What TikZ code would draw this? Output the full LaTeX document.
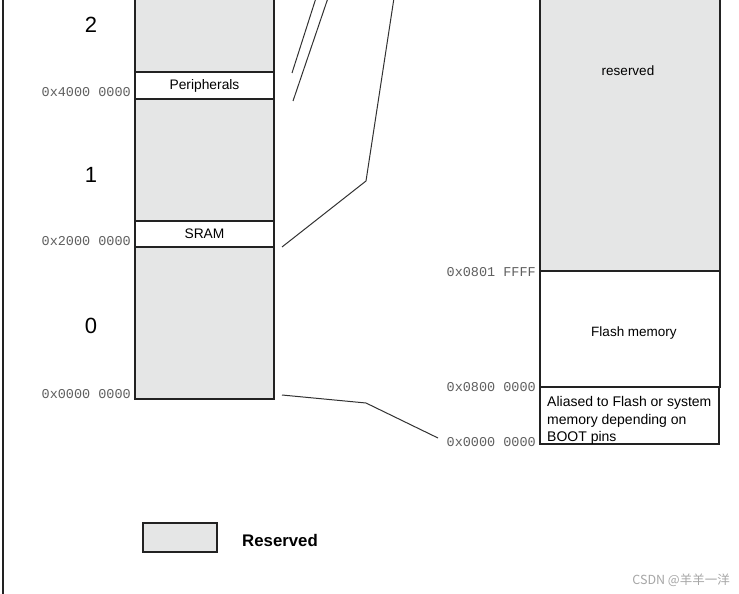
\documentclass[tikz,border=0pt]{standalone}
\usepackage{fontspec}
\setmainfont{Liberation Sans}
\setmonofont{Liberation Mono}
\newfontfamily\cjkfont{Noto Sans CJK SC}
\definecolor{resgray}{RGB}{229,230,230}
\definecolor{edgec}{RGB}{34,34,34}
\definecolor{addrc}{RGB}{95,95,95}
\definecolor{linkc}{RGB}{50,50,50}
\begin{document}
\begin{tikzpicture}[x=1pt,y=-1pt,
  region/.style={draw=edgec, line width=1.6pt, fill=resgray},
  band/.style={draw=edgec, line width=1.6pt, fill=white, inner sep=0pt, font=\fontsize{13.8}{15}\selectfont},
  addrlbl/.style={font=\ttfamily\fontsize{13.5}{15}\selectfont, text=addrc, inner sep=0pt},
  bignum/.style={font=\fontsize{22}{24}\selectfont, inner sep=0pt},
  link/.style={draw=linkc, line width=1pt},
  plain/.style={inner sep=0pt, font=\fontsize{13.5}{15}\selectfont}
]
\useasboundingbox (0,0) rectangle (739,594);
\clip (0,0) rectangle (739,594);
\fill[white] (0,0) rectangle (739,594);

% left frame line
\draw[edgec, line width=1.5pt] (3,-2) -- (3,596);

% left memory column
\path[region] (135,-10) rectangle (274,399);
\node[band, minimum width=139pt, minimum height=27pt] (periph) at (204.5,85.5) {Peripherals};
\node[band, minimum width=139pt, minimum height=26pt] (sram) at (204.5,234) {SRAM};

% block numbers
\node[bignum] (n2) at (91,25) {2};
\node[bignum] (n1) at (91,175) {1};
\node[bignum] (n0) at (91,326) {0};

% left addresses
\node[addrlbl, anchor=east] (a4) at (131,92) {0x4000 0000};
\node[addrlbl, anchor=east] (a2) at (131,241) {0x2000 0000};
\node[addrlbl, anchor=east] (a0) at (131,394) {0x0000 0000};

% right memory column
\path[region] (540,-10) rectangle (720,271);
\node[plain] (resv) at (628,71) {reserved};
\node[band, minimum width=180pt, minimum height=116pt] (flash) at (630,329) {};
\node[plain] (flashtxt) at (634,333) {Flash memory};
\node[draw=edgec, line width=1.3pt, fill=white, minimum width=179pt, minimum height=57pt, inner sep=0pt] (alias) at (629.5,415.5) {};
\node[anchor=north west, align=left, inner sep=0pt, font=\fontsize{14}{17.5}\selectfont] (aliastxt) at (547,396.3)
  {Aliased to Flash or system\\memory depending on\\BOOT pins};

% right addresses
\node[addrlbl, anchor=east] (r1) at (536,272.5) {0x0801 FFFF};
\node[addrlbl, anchor=east] (r2) at (536,387.5) {0x0800 0000};
\node[addrlbl, anchor=east] (r3) at (536,442) {0x0000 0000};

% connector points
\coordinate (c1a) at (292,73);
\coordinate (c1b) at (316,-2);
\coordinate (c2a) at (293,101);
\coordinate (c2b) at (328,-2);
\coordinate (c3a) at (282,247);
\coordinate (c3b) at (366,181);
\coordinate (c3c) at (394,-2);
\coordinate (c4a) at (282,395);
\coordinate (c4b) at (366,403);
\coordinate (c4c) at (438,438);

\draw[link] (c1a) -- (c1b);
\draw[link] (c2a) -- (c2b);
\draw[link] (c3a) -- (c3b) -- (c3c);
\draw[link] (c4a) -- (c4b) -- (c4c);

% legend
\node[draw=edgec, line width=1.6pt, fill=resgray, minimum width=74pt, minimum height=29pt, inner sep=0pt] (legbox) at (180,537.5) {};
\node[anchor=west, inner sep=0pt, font=\bfseries\fontsize{16.8}{18}\selectfont] (legtxt) at (242,540) {Reserved};

% watermark
\node[anchor=east, inner sep=0pt, text=black!35, font=\cjkfont\fontsize{12.5}{14}\selectfont] (wm) at (730,580) {CSDN @羊羊一洋};
\end{tikzpicture}
\end{document}
